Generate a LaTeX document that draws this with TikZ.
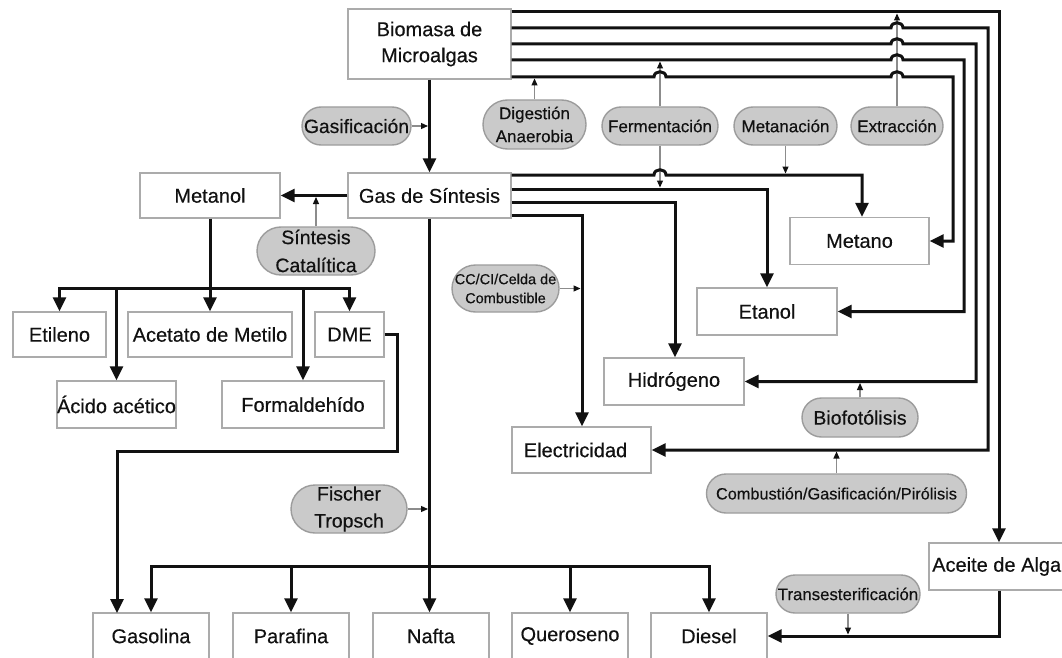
\documentclass[tikz,border=0pt]{standalone}
\usepackage{fontspec}
\setmainfont{Liberation Sans}[FakeBold=0.35]
\usetikzlibrary{arrows.meta}
\definecolor{boxline}{HTML}{ABABAB}
\definecolor{pillfill}{HTML}{CACACA}
\definecolor{pillline}{HTML}{9C9C9C}
\definecolor{thinline}{HTML}{8C8C8C}
\definecolor{ink}{HTML}{111111}
\begin{document}
\begin{tikzpicture}[x=1pt,y=-1pt,
  box/.style={draw=boxline,line width=1.4pt,fill=white,inner sep=0pt,text=ink,font=\fontsize{20}{26}\selectfont,align=center},
  pill/.style={draw=pillline,line width=1.4pt,fill=pillfill,inner sep=0pt,text=ink,align=center},
  thk/.style={draw=ink,line width=3pt,-{Triangle[width=13pt,length=14pt]}},
  thkboth/.style={draw=ink,line width=3pt,{Triangle[width=13pt,length=14pt]}-{Triangle[width=13pt,length=14pt]}},
  thn/.style={draw=thinline,line width=1.2pt,shorten >=1.5pt,-{Triangle[width=6pt,length=7pt,color=ink]}},
]
\useasboundingbox (0,0) rectangle (1062,658);
\clip (0,0) rectangle (1062,658);
\fill[white] (0,0) rectangle (1062,658);

% boxes
\node[box,minimum width=163,minimum height=70] (bio) at (429.5,44) {Biomasa de\\Microalgas};
\node[box,minimum width=163,minimum height=45] (gas) at (429.5,195.5) {Gas de Síntesis};
\node[box,minimum width=140,minimum height=45] (metanol) at (210,195.5) {Metanol};
\node[box,minimum width=93,minimum height=45] (etileno) at (59.5,334.5) {Etileno};
\node[box,minimum width=164,minimum height=45] (acetato) at (210,334.5) {Acetato de Metilo};
\node[box,minimum width=69,minimum height=45] (dme) at (349.5,334.5) {DME};
\node[box,minimum width=117,minimum height=47] (acido) at (116.5,404.5) {Ácido acético};
\node[box,minimum width=162,minimum height=47] (formal) at (303,404.5) {Formaldehído};
\node[box,minimum width=139,minimum height=47] (metano) at (859.5,241) {Metano};
\node[box,minimum width=140,minimum height=47] (etanol) at (767,311.5) {Etanol};
\node[box,minimum width=140,minimum height=47] (hidro) at (674,381.5) {Hidrógeno};
\node[box,minimum width=139,minimum height=46] (elec) at (581.5,450) {\hspace*{-12pt}Electricidad};
\node[box,minimum width=140,minimum height=47] (aceite) at (999,566.5) {};
\node[anchor=west,inner sep=0pt,text=ink,font=\fontsize{20}{26}\selectfont] (aceitetxt) at (932,566.5) {Aceite de Alga};
\node[box,minimum width=116,minimum height=46] (gasolina) at (151,636) {Gasolina};
\node[box,minimum width=116,minimum height=46] (parafina) at (291,636) {Parafina};
\node[box,minimum width=116,minimum height=46] (nafta) at (431,636) {Nafta};
\node[box,minimum width=116,minimum height=46] (queroseno) at (570,636) {Queroseno};
\node[box,minimum width=116,minimum height=46] (diesel) at (709,636) {Diesel};

% process pills
\node[pill,minimum width=109,minimum height=38,rounded corners=19pt,font=\fontsize{19.3}{23}\selectfont] (gasif) at (356.5,126) {Gasificación};
\node[pill,minimum width=103,minimum height=49,rounded corners=24.5pt,font=\fontsize{17}{23}\selectfont] (dig) at (534.5,124.5) {Digestión\\Anaerobia};
\node[pill,minimum width=116,minimum height=38,rounded corners=19pt,font=\fontsize{17}{21}\selectfont] (ferm) at (660,126) {Fermentación};
\node[pill,minimum width=103,minimum height=38,rounded corners=19pt,font=\fontsize{17}{21}\selectfont] (metan) at (785.5,126) {Metanación};
\node[pill,minimum width=92,minimum height=38,rounded corners=19pt,font=\fontsize{17}{21}\selectfont] (extr) at (897,126) {Extracción};
\node[pill,minimum width=118,minimum height=48,rounded corners=24pt,font=\fontsize{19.5}{28}\selectfont] (sint) at (316,251) {Síntesis\\Catalítica};
\node[pill,minimum width=107,minimum height=47,rounded corners=23.5pt,font=\fontsize{14.5}{19}\selectfont] (cc) at (505.5,288.5) {CC/CI/Celda de\\Combustible};
\node[pill,minimum width=116,minimum height=39,rounded corners=19.5pt,font=\fontsize{19.5}{23}\selectfont] (biof) at (860,417.5) {Biofotólisis};
\node[pill,minimum width=260,minimum height=39,rounded corners=19.5pt,font=\fontsize{16.3}{20}\selectfont] (comb) at (836.5,493.5) {Combustión/Gasificación/Pirólisis};
\node[pill,minimum width=116,minimum height=48,rounded corners=24pt,font=\fontsize{19.5}{27}\selectfont] (fisch) at (349,509) {Fischer\\Tropsch};
\node[pill,minimum width=144,minimum height=38,rounded corners=19pt,font=\fontsize{16.8}{21}\selectfont] (trans) at (848,594) {Transesterificación};

% junction coordinates
\coordinate (ba) at (999,12);
\coordinate (bel) at (988,28);
\coordinate (bh) at (976,44);
\coordinate (bet) at (964,60);
\coordinate (bm) at (953,77);
\coordinate (gm) at (862,175);
\coordinate (ge) at (767,189);
\coordinate (gh) at (675,202);
\coordinate (gc) at (582,215);
\coordinate (mb) at (210,288);
\coordinate (d1) at (397,451);
\coordinate (dg) at (117,613);
\coordinate (bb) at (431,566);

% thin process arrows
\draw[thn] (gasif.east) -- (gasif.east -| bio.south);
\draw[thn] (dig.north) -- (dig.north |- bm);
\draw[thn] (ferm.north) -- (ferm.north |- bet);
\draw[thn] (ferm.south) -- (ferm.south |- ge);
\draw[thn] (metan.south) -- (metan.south |- gm);
\draw[thn] (extr.north) -- (extr.north |- ba);
\draw[thn] (sint.north) -- (sint.north |- gas.west);
\draw[thn] (cc.east) -- (cc.east -| gc);
\draw[thn] (fisch.east) -- (fisch.east -| gas.south);
\draw[thn] (biof.north) -- (biof.north |- hidro.east);
\draw[thn] (comb.north) -- (comb.north |- elec.east);
\draw[thn] (trans.south) -- (trans.south |- diesel.east);

% from Biomasa
\draw[thk] (bio.south) -- (gas.north);
\draw[thk] (bio.east |- ba) -- (ba) -- (aceite.north -| ba);
\draw[thk] (bio.east |- bel) -- (891,28) .. controls (891,21) and (903,21) .. (903,28) -- (bel) |- (elec.east);
\draw[thk] (bio.east |- bh) -- (891,44) .. controls (891,37) and (903,37) .. (903,44) -- (bh) |- (hidro.east);
\draw[thk] (bio.east |- bet) -- (891,60) .. controls (891,53) and (903,53) .. (903,60) -- (bet) |- (etanol.east);
\draw[thk] (bio.east |- bm) -- (654,77) .. controls (654,70) and (666,70) .. (666,77) -- (891,77) .. controls (891,70) and (903,70) .. (903,77) -- (bm) |- (metano.east);

% from Gas de Sintesis
\draw[thk] (gas.west) -- (metanol.east);
\draw[thk] (gas.east |- gm) -- (654,175) .. controls (654,168) and (666,168) .. (666,175) -- (gm) -- (gm |- metano.north);
\draw[thk] (gas.east |- ge) -- (ge) -- (ge |- etanol.north);
\draw[thk] (gas.east |- gh) -- (gh) -- (gh |- hidro.north);
\draw[thk] (gas.east |- gc) -- (gc) -- (gc |- elec.north);
\draw[thk] (gas.south) -- (gas.south |- nafta.north);
\draw[thkboth] (gasolina.north) -- (gasolina.north |- bb) -- (diesel.north |- bb) -- (diesel.north);
\draw[thk] (parafina.north |- bb) -- (parafina.north);
\draw[thk] (queroseno.north |- bb) -- (queroseno.north);

% from Metanol
\draw[thk] (metanol.south) -- (acetato.north);
\draw[thkboth] (etileno.north) -- (etileno.north |- mb) -- (dme.north |- mb) -- (dme.north);
\draw[thk] (acido.north |- mb) -- (acido.north);
\draw[thk] (formal.north |- mb) -- (formal.north);
\draw[thk] (dme.east) -| (d1) -| (dg);

% from Aceite
\draw[thk] (aceite.south) |- (diesel.east);
\end{tikzpicture}
\end{document}
